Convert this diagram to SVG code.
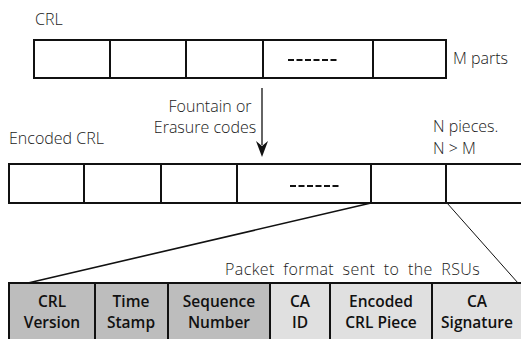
<svg xmlns="http://www.w3.org/2000/svg" width="521" height="339" viewBox="0 0 521 339">
  <style>
    .lbl { font-family: "Open Sans", "Liberation Sans", sans-serif; font-size: 16px; font-weight: 300; fill: #1a1a1a; }
    .cell { fill: #ffffff; stroke: #111; stroke-width: 2; }
    .dash { stroke: #111; stroke-width: 2; stroke-dasharray: 6 2.5; }
    .pk-dark { fill: #bdbdbd; stroke: #111; stroke-width: 2; }
    .pk-light { fill: #e0e0e0; stroke: #111; stroke-width: 2; }
    .pk-txt { font-family: "Open Sans", "Liberation Sans", sans-serif; font-size: 15.5px; font-weight: 600; fill: #111; text-anchor: middle; }
    .conn { stroke: #111; fill: none; }
  </style>

  <!-- original CRL split into M parts -->
  <g id="crl">
    <text class="lbl" x="35" y="25">CRL</text>
    <rect class="cell" x="34" y="40" width="76" height="38"/>
    <rect class="cell" x="110" y="40" width="76" height="38"/>
    <rect class="cell" x="186" y="40" width="77" height="38"/>
    <rect class="cell" x="263" y="40" width="110" height="38"/>
    <rect class="cell" x="373" y="40" width="73" height="38"/>
    <line class="dash" x1="288" y1="60" x2="339" y2="60"/>
    <text class="lbl" x="453" y="64">M parts</text>
  </g>

  <!-- encoding step -->
  <g id="coding">
    <text class="lbl" x="210" y="112" text-anchor="middle">Fountain or</text>
    <text class="lbl" x="205" y="133" text-anchor="middle">Erasure codes</text>
  </g>

  <!-- encoded CRL in N pieces -->
  <g id="encoded-crl">
    <text class="lbl" x="9" y="144">Encoded CRL</text>
    <text class="lbl" x="433" y="132">N pieces.</text>
    <text class="lbl" x="433" y="154">N &gt; M</text>
    <rect class="cell" x="9" y="164" width="75" height="39"/>
    <rect class="cell" x="84" y="164" width="77" height="39"/>
    <rect class="cell" x="161" y="164" width="76" height="39"/>
    <rect class="cell" x="237" y="164" width="134" height="39"/>
    <rect class="cell" x="371" y="164" width="75" height="39"/>
    <rect class="cell" x="446" y="164" width="90" height="39"/>
    <line class="dash" x1="290" y1="186" x2="339" y2="186"/>
  </g>

  <!-- packet layout -->
  <g id="packet">
    <text class="lbl" x="225" y="275" font-size="17" letter-spacing="0.4" word-spacing="4">Packet format sent to the RSUs</text>
    <rect class="pk-dark" x="9" y="283" width="86" height="70"/>
    <rect class="pk-dark" x="95" y="283" width="73" height="70"/>
    <rect class="pk-dark" x="168" y="283" width="102" height="70"/>
    <rect class="pk-light" x="270" y="283" width="60" height="70"/>
    <rect class="pk-light" x="330" y="283" width="102" height="70"/>
    <rect class="pk-light" x="432" y="283" width="100" height="70"/>
    <text class="pk-txt" x="52" y="307">CRL</text>
    <text class="pk-txt" x="52" y="328">Version</text>
    <text class="pk-txt" x="131" y="307">Time</text>
    <text class="pk-txt" x="131" y="328">Stamp</text>
    <text class="pk-txt" x="219" y="307">Sequence</text>
    <text class="pk-txt" x="219" y="328">Number</text>
    <text class="pk-txt" x="300" y="307">CA</text>
    <text class="pk-txt" x="300" y="328">ID</text>
    <text class="pk-txt" x="381" y="307">Encoded</text>
    <text class="pk-txt" x="381" y="328">CRL Piece</text>
    <text class="pk-txt" x="477" y="307">CA</text>
    <text class="pk-txt" x="477" y="328">Signature</text>
  </g>

  <!-- connectors -->
  <g id="connectors">
    <line class="conn" x1="262" y1="88" x2="262" y2="145" stroke-width="1.3"/>
    <polygon points="256,141 262,146 268,141 262,157" fill="#111"/>
    <line class="conn" x1="371" y1="203" x2="28" y2="283" stroke-width="1.6"/>
    <line class="conn" x1="447" y1="203" x2="518" y2="283" stroke-width="1"/>
  </g>
</svg>
